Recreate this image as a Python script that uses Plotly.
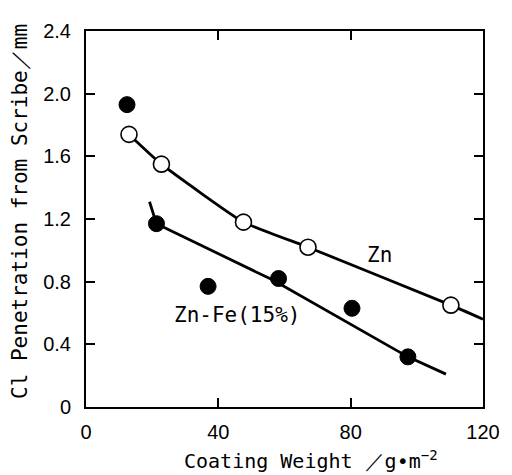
import plotly.graph_objects as go

# Measured points
zn_x = [13.0, 22.8, 47.6, 67.1, 110.3]
zn_y = [1.74, 1.55, 1.18, 1.02, 0.65]
znfe_x = [12.4, 21.3, 36.9, 58.2, 80.4, 97.3]
znfe_y = [1.93, 1.17, 0.77, 0.82, 0.63, 0.32]

# Hand-drawn trend curves
zn_fit_x = [13.0, 22.8, 47.6, 67.1, 110.3, 120.0]
zn_fit_y = [1.74, 1.55, 1.18, 1.02, 0.65, 0.56]
znfe_fit_x = [19.2, 21.3, 56.5, 97.3, 108.8]
znfe_fit_y = [1.31, 1.17, 0.81, 0.32, 0.21]

x_ticks = [0, 40, 80, 120]
y_ticks = [0, 0.4, 0.8, 1.2, 1.6, 2.0, 2.4]
y_tick_text = ["0", "0.4", "0.8", "1.2", "1.6", "2.0", "2.4"]

mono = "DejaVu Sans Mono"
tickfont = dict(family="Liberation Sans", size=20, color="black")

fig = go.Figure()
fig.add_trace(go.Scatter(x=zn_fit_x, y=zn_fit_y, mode="lines",
                         line=dict(color="black", width=2.8, shape="spline", smoothing=0.4),
                         hoverinfo="skip", showlegend=False))
fig.add_trace(go.Scatter(x=znfe_fit_x, y=znfe_fit_y, mode="lines",
                         line=dict(color="black", width=2.8),
                         hoverinfo="skip", showlegend=False))
fig.add_trace(go.Scatter(x=zn_x, y=zn_y, mode="markers", name="Zn",
                         marker=dict(symbol="circle", size=16, color="white",
                                     line=dict(color="black", width=1.6)),
                         showlegend=False))
fig.add_trace(go.Scatter(x=znfe_x, y=znfe_y, mode="markers", name="Zn-Fe(15%)",
                         marker=dict(symbol="circle", size=16, color="black",
                                     line=dict(color="black", width=1)),
                         showlegend=False))

fig.add_annotation(x=88.7, y=0.97, text="Zn", showarrow=False,
                   font=dict(family=mono, size=21, color="black"))
fig.add_annotation(x=45.5, y=0.59, text="Zn-Fe(15%)", showarrow=False,
                   font=dict(family=mono, size=21, color="black"))

# x-axis title (offset right as in the reference)
fig.add_annotation(x=0.567, y=0, xref="paper", yref="paper", yanchor="middle",
                   yshift=-53, showarrow=False,
                   text="Coating Weight ／g•m<sup>−2</sup>",
                   font=dict(family=mono, size=20, color="black"))

# y-axis title (shifted upward, as in the reference)
fig.add_annotation(x=-0.165, y=0.52, xref="paper", yref="paper", xanchor="center",
                   yanchor="middle", textangle=-90, showarrow=False,
                   text="Cl Penetration from Scribe／mm",
                   font=dict(family=mono, size=21, color="black"))

fig.update_xaxes(range=[0, 120], tickvals=x_ticks, ticks="inside", ticklen=9,
                 tickwidth=1.5, tickcolor="black", showline=True, linecolor="black",
                 linewidth=2, mirror="ticks", showgrid=False, zeroline=False,
                 tickfont=tickfont, ticklabelstandoff=6)
fig.update_yaxes(range=[0, 2.4], tickvals=y_ticks, ticktext=y_tick_text, ticks="inside",
                 ticklen=9, tickwidth=1.5, tickcolor="black", showline=True,
                 linecolor="black", linewidth=2, mirror="ticks", showgrid=False,
                 zeroline=False, tickfont=tickfont, ticklabelstandoff=9)

fig.update_layout(width=504, height=467, plot_bgcolor="white", paper_bgcolor="white",
                  margin=dict(l=78, r=20, t=14, b=68), showlegend=False)

fig.write_html("out.html")
